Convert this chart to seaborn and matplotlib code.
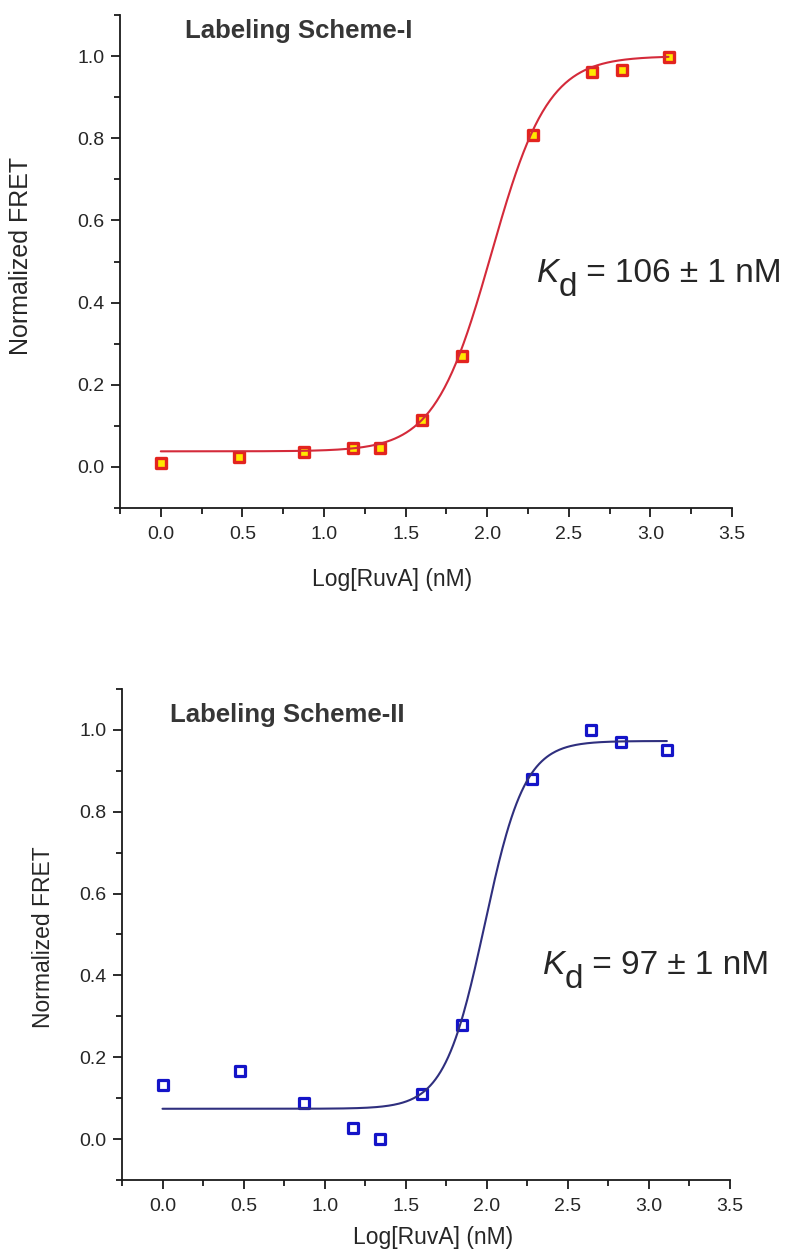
import numpy as np
import matplotlib
matplotlib.use("Agg")
import matplotlib.pyplot as plt
import seaborn as sns
from matplotlib.ticker import MultipleLocator

# Titration data: log10 of RuvA concentration (nM) and normalized FRET
log_ruva = [0.0, 0.477, 0.875, 1.176, 1.342, 1.602, 1.845, 2.279, 2.643, 2.826, 3.111]
fret_scheme1 = [0.010, 0.025, 0.037, 0.045, 0.045, 0.115, 0.269, 0.809, 0.962, 0.966, 0.999]
fret_scheme2 = [0.132, 0.166, 0.087, 0.028, 0.000, 0.111, 0.278, 0.879, 1.000, 0.971, 0.950]

panel_titles = ["Labeling Scheme-I", "Labeling Scheme-II"]

# Hill fit parameters (Kd in nM)
kd_values = [106, 97]
kd_errors = [1, 1]
fit_base = [0.038, 0.074]
fit_top = [1.000, 0.973]
fit_hill_n = [2.5, 3.5]

x_ticks = [0.0, 0.5, 1.0, 1.5, 2.0, 2.5, 3.0, 3.5]
y_ticks = [0.0, 0.2, 0.4, 0.6, 0.8, 1.0]


def hill(logx, kd, base, top, n):
    return base + (top - base) / (1.0 + 10 ** (n * (np.log10(kd) - logx)))


sns.set_theme(style="ticks")
plt.rcParams["font.family"] = ["Liberation Sans", "DejaVu Sans"]
plt.rcParams["axes.linewidth"] = 1.3
plt.rcParams["text.color"] = "#262626"

fig = plt.figure(figsize=(7.91, 12.51), dpi=100)
ax_top = fig.add_axes([0.1517, 0.5939, 0.7737, 0.3941])
ax_bot = fig.add_axes([0.1542, 0.0568, 0.7686, 0.3924])

styles = [
    dict(face="#ffe800", edge="#e3241f", line="#d42a3a", ms=46, mew=2.4, lw=1.5),
    dict(face="white", edge="#1414c8", line="#2f2f7e", ms=48, mew=2.3, lw=1.5),
]
series = [fret_scheme1, fret_scheme2]
title_pos = [(0.15, 1.043), (0.048, 1.02)]
kd_pos = [(2.303, 0.451), (2.344, 0.404)]
ylabel_coords = [(-0.142, 0.511), (-0.110, 0.495)]
xlabel_coords = [(0.444, -0.122), (0.512, -0.094)]
ylabel_size = [18, 16.5]


def kd_label(ax, x, y, kd, err, fs):
    tk = ax.text(x, y, "K", fontsize=fs, style="italic", ha="left",
                 va="baseline", color="#262626")
    td = ax.annotate("d", xy=(1, 0), xycoords=tk, xytext=(0, -10),
                     textcoords="offset points", fontsize=fs, ha="left",
                     va="bottom", color="#262626")
    ax.annotate(f" = {kd} \u00b1 {err} nM", xy=(1, 0), xycoords=td,
                xytext=(0, 10), textcoords="offset points", fontsize=fs,
                ha="left", va="bottom", color="#262626")


for i, ax in enumerate([ax_top, ax_bot]):
    st = styles[i]
    xfit = np.linspace(log_ruva[0], log_ruva[-1], 400)
    yfit = hill(xfit, kd_values[i], fit_base[i], fit_top[i], fit_hill_n[i])

    sns.scatterplot(x=log_ruva, y=series[i], ax=ax, marker="s", s=st["ms"],
                    color=st["face"], edgecolor=st["edge"],
                    linewidth=st["mew"], zorder=2, legend=False)
    sns.lineplot(x=xfit, y=yfit, ax=ax, color=st["line"], linewidth=st["lw"],
                 zorder=3, legend=False)

    ax.set_xlim(-0.25, 3.5)
    ax.set_ylim(-0.1, 1.1)
    ax.set_xticks(x_ticks)
    ax.set_yticks(y_ticks)
    ax.xaxis.set_minor_locator(MultipleLocator(0.25))
    ax.yaxis.set_minor_locator(MultipleLocator(0.1))
    ax.set_xticklabels([f"{t:.1f}" for t in x_ticks])
    ax.set_yticklabels([f"{t:.1f}" for t in y_ticks])
    ax.tick_params(which="major", direction="out", length=6.5, width=1.3,
                   color="#1a1a1a", labelsize=14, labelcolor="#262626")
    ax.tick_params(which="minor", direction="out", length=4, width=1.3,
                   color="#1a1a1a")
    ax.tick_params(axis="x", which="major", pad=6.5)
    ax.tick_params(axis="y", which="major", pad=4.5)
    sns.despine(ax=ax)
    for sp in ("left", "bottom"):
        ax.spines[sp].set_color("#1a1a1a")

    ax.set_xlabel("Log[RuvA] (nM)", fontsize=16.5, color="#262626")
    ax.set_ylabel("Normalized FRET", fontsize=ylabel_size[i], color="#262626")
    ax.xaxis.set_label_coords(*xlabel_coords[i])
    ax.yaxis.set_label_coords(*ylabel_coords[i])

    ax.text(title_pos[i][0], title_pos[i][1], panel_titles[i], fontsize=18.5,
            fontweight="bold", color="#363636", ha="left", va="baseline")
    kd_label(ax, kd_pos[i][0], kd_pos[i][1], kd_values[i], kd_errors[i], 24)

fig.savefig("out.png", dpi=100, facecolor="white")
